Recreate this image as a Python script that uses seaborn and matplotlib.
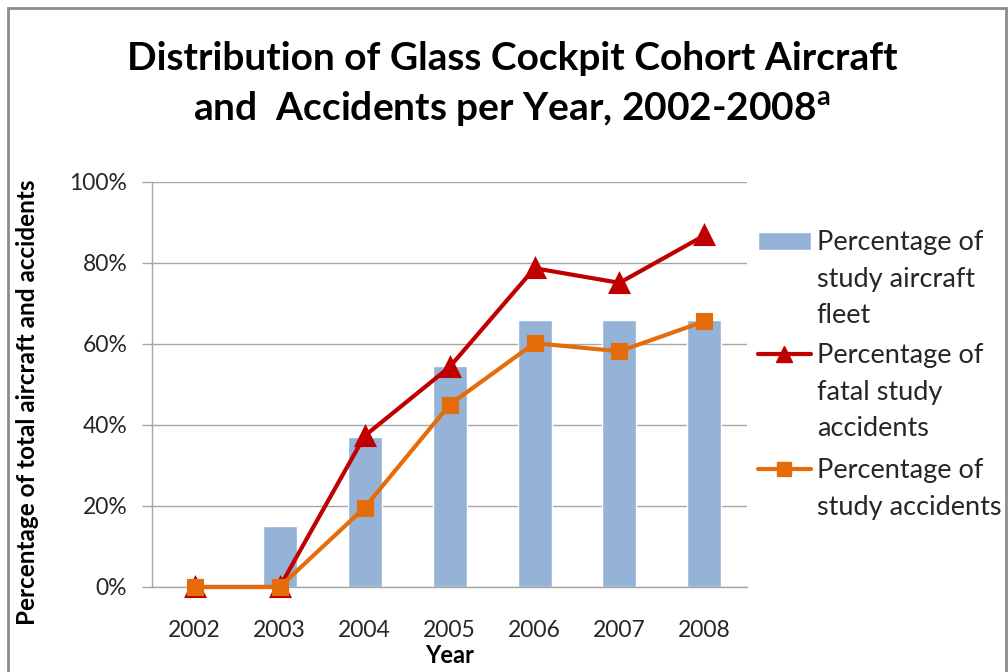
import matplotlib
matplotlib.use("Agg")
import matplotlib.pyplot as plt
from matplotlib.lines import Line2D
from matplotlib.patches import Patch, Rectangle
from matplotlib.ticker import FixedLocator
import seaborn as sns
import pandas as pd

years = ["2002", "2003", "2004", "2005", "2006", "2007", "2008"]
fleet_pct = [0, 15, 37, 54.5, 66, 66, 66]
fatal_pct = [0, 0, 37.3, 54.3, 78.7, 75.1, 86.8]
study_pct = [0, 0, 19.6, 45, 60.2, 58.2, 65.6]
y_ticks = [0, 20, 40, 60, 80, 100]

bar_color = "#95B3D7"
fatal_color = "#C00000"
study_color = "#E46C0A"
grid_color = "#A6A6A6"
text_color = "#262626"

df = pd.DataFrame({"Year": years, "fleet": fleet_pct, "fatal": fatal_pct, "study": study_pct})

sns.set_theme(style="white")
plt.rcParams["font.family"] = ["Lato", "DejaVu Sans"]

fig = plt.figure(figsize=(10.08, 6.72), dpi=100)
ax = fig.add_axes([0.151, 0.1265, 0.590, 0.6027])

sns.barplot(data=df, x="Year", y="fleet", color=bar_color, width=0.4,
            saturation=1, ax=ax, zorder=2)
sns.pointplot(data=df, x="Year", y="fatal", color=fatal_color, marker="^",
              markersize=13, linewidth=3, errorbar=None, ax=ax)
sns.pointplot(data=df, x="Year", y="study", color=study_color, marker="s",
              markersize=10, linewidth=3, errorbar=None, ax=ax)
for ln in ax.lines:
    ln.set_clip_on(False)
    ln.set_zorder(4)
ax.lines[-1].set_zorder(5)

ax.set_xlim(-0.5, 6.5)
ax.set_ylim(0, 100)
ax.set_yticks(y_ticks)
ax.set_yticklabels([f"{v}%" for v in y_ticks], fontsize=16.5, color=text_color)
ax.set_xticks(range(len(years)))
ax.set_xticklabels(years, fontsize=16.5, color=text_color)
ax.xaxis.set_minor_locator(FixedLocator([i - 0.5 for i in range(len(years) + 1)]))
ax.tick_params(axis="x", which="major", length=0, pad=24)
ax.tick_params(axis="x", which="minor", length=7, width=1, color=grid_color, direction="out")
ax.tick_params(axis="y", length=7, width=1, color=grid_color, direction="out", pad=11, left=True)
ax.yaxis.grid(True, color=grid_color, linewidth=1)
ax.set_axisbelow(True)
for s in ["top", "right"]:
    ax.spines[s].set_visible(False)
for s in ["left", "bottom"]:
    ax.spines[s].set_color(grid_color)
    ax.spines[s].set_linewidth(1)

ax.set_xlabel("Year", fontsize=17, fontweight="bold", color="black")
ax.xaxis.set_label_coords(0.5, -0.14)
ax.set_ylabel("Percentage of total aircraft and accidents", fontsize=17.5,
              fontweight="bold", color="black")
ax.yaxis.set_label_coords(-0.19, 0.457)

fig.text(0.508, 0.913, "Distribution of Glass Cockpit Cohort Aircraft", ha="center",
         va="center", fontsize=28, fontweight="bold", color="black")
fig.text(0.508, 0.838, r"and  Accidents per Year, 2002-2008$^{\mathregular{a}}$", ha="center",
         va="center", fontsize=28, fontweight="bold", color="black")

blank = Patch(visible=False)
groups = [
    (Patch(facecolor=bar_color), ["Percentage of", "study aircraft", "fleet"], 0.657),
    (Line2D([], [], color=fatal_color, lw=3, marker="^", markersize=12),
     ["Percentage of", "fatal study", "accidents"], 0.489),
    (Line2D([], [], color=study_color, lw=3, marker="s", markersize=10),
     ["Percentage of", "study accidents"], 0.318),
]
for handle, lines, top in groups:
    hs = [handle] + [blank] * (len(lines) - 1)
    fig.legend(hs, lines, loc="upper left", bbox_to_anchor=(0.752, top),
               frameon=False, fontsize=19.5, handlelength=1.95, handletextpad=0.22,
               handleheight=0.65, labelspacing=0.42, borderaxespad=0, borderpad=0,
               labelcolor=text_color)

fig.add_artist(Rectangle((0.008, -0.02), 0.99, 1.008, transform=fig.transFigure,
                         fill=False, edgecolor="#8C8C8C", linewidth=2))

fig.savefig("out.png", dpi=100)
